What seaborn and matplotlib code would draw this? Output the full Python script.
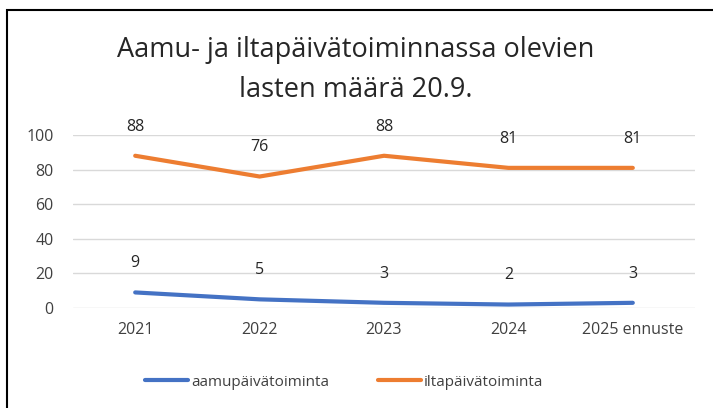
import pandas as pd
import numpy as np
import matplotlib
matplotlib.use('Agg')
import matplotlib.pyplot as plt
import seaborn as sns
from matplotlib.patches import Rectangle

# --- Data ---
years = ['2021', '2022', '2023', '2024', '2025 ennuste']
aamu = [9, 5, 3, 2, 3]
ilta = [88, 76, 88, 81, 81]
series_names = ['aamupäivätoiminta', 'iltapäivätoiminta']
colors = ['#4472C4', '#ED7D31']

df = pd.DataFrame({
    'x': list(range(len(years))) * 2,
    'value': aamu + ilta,
    'series': [series_names[0]] * len(years) + [series_names[1]] * len(years),
})

sns.set_theme(style="white")
plt.rcParams['font.family'] = ['Open Sans', 'DejaVu Sans']

fig = plt.figure(figsize=(7.13, 4.08), dpi=100)
W, H = 713, 408
# plot area in pixels: left 73, right 695, top 135, bottom 308
ax = fig.add_axes([73 / W, 1 - 308 / H, (695 - 73) / W, (308 - 135) / H])

sns.lineplot(data=df, x='x', y='value', hue='series', palette=colors,
             linewidth=3, ax=ax, legend=False, solid_capstyle='round')

ax.set_xlim(-0.5, len(years) - 0.5)
ax.set_ylim(0, 100)
ax.set_yticks(range(0, 101, 20))
ax.set_xticks(range(len(years)))
ax.set_xticklabels(years)
ax.tick_params(axis='both', labelsize=11.5, colors='#404040', length=0)
ax.tick_params(axis='x', pad=10)
ax.tick_params(axis='y', pad=14)
ax.grid(axis='y', color='#D9D9D9', linewidth=1)
ax.set_axisbelow(True)
for s in ax.spines.values():
    s.set_visible(False)
ax.set_xlabel('')
ax.set_ylabel('')

# data labels
for vals in (aamu, ilta):
    for i, v in enumerate(vals):
        ax.annotate(str(v), (i, v), xytext=(0, 21), textcoords='offset points',
                    ha='center', va='center', fontsize=11.5, color='#262626')

# title
cx = 356 / W
fig.text(cx, 1 - 50 / H, 'Aamu- ja iltapäivätoiminnassa olevien',
         ha='center', va='center', fontsize=19.5, color='#262626')
fig.text(cx, 1 - 90 / H, 'lasten määrä 20.9.',
         ha='center', va='center', fontsize=19.5, color='#262626')

# legend
handles = [plt.Line2D([0], [0], color=c, linewidth=3, solid_capstyle='round') for c in colors]
fig.legend(handles, series_names, loc='center', bbox_to_anchor=(344 / W, 1 - 382 / H),
           ncol=2, frameon=False, fontsize=11, handlelength=2.8, handletextpad=0.2,
           columnspacing=3.2, labelcolor='#404040')

# chart border
fig.patches.append(Rectangle((7 / W, -0.05), 1.0, 1 - 10 / H + 0.05,
                             transform=fig.transFigure, fill=False,
                             edgecolor='black', linewidth=1.5))

plt.savefig('out.png', dpi=100)
